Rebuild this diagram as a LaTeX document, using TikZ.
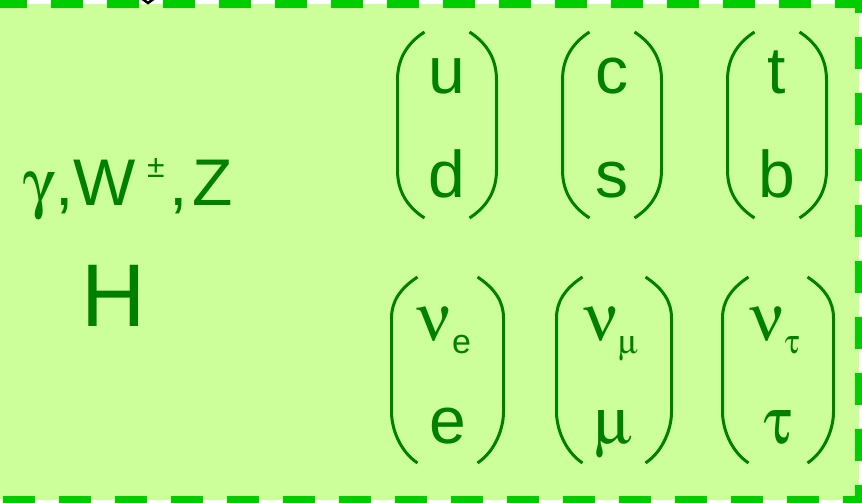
\documentclass[tikz,border=0pt]{standalone}
\usepackage{fontspec}
\usepackage[Symbol]{upgreek}
\setmainfont{Liberation Sans}
\usetikzlibrary{calc}
\definecolor{boxfill}{RGB}{204,255,153}
\definecolor{boxedge}{RGB}{0,204,0}
\definecolor{ink}{RGB}{0,128,0}

\begin{document}
\begin{tikzpicture}[x=1pt,y=-1pt,
  flav/.style={text=ink,inner sep=0pt,font=\fontsize{66}{66}\selectfont},
  paren/.style={draw=ink,line width=3pt},
  edge/.style={draw=boxedge,line width=8pt,dash pattern=on 32pt off 24pt}]
\useasboundingbox (0,0) rectangle (862,503);
% background box, left side runs off the page
\fill[boxfill] (-20,4) rectangle (859,500);
\draw[edge] (-5,4) -- (870,4);
\draw[edge] (859,-19) -- (859,510);
\draw[edge] (3,500) -- (870,500);
\draw[line width=2.5pt] (141,-2) -- (148,3) -- (155,-2);

% gauge and Higgs bosons
\node[flav,anchor=base] (bosons) at (128,205) {$\upgamma$,W\hspace{11pt}\raisebox{28pt}{\fontsize{32}{32}\selectfont ±}\hspace{5pt},\hspace{4pt}Z};
\node[flav,font=\fontsize{89}{89}\selectfont,anchor=base] (higgs) at (114,326) {H};

% quark doublets
\foreach \n/\cx/\up/\dn in {ud/447/u/d,cs/612/c/s,tb/777/t/b} {
    \node[flav,anchor=base] (\n-up) at (\cx,93) {\up};
    \node[flav,anchor=base] (\n-dn) at (\cx,197) {\dn};
    \foreach \s in {-1,1}
        \draw[paren] ({\cx+\s*22.5},32) .. controls ({\cx+\s*41},44) and ({\cx+\s*49.5},60) .. ({\cx+\s*49.5},80)
            -- ({\cx+\s*49.5},170) .. controls ({\cx+\s*49.5},190) and ({\cx+\s*41},206) .. ({\cx+\s*22.5},218);
}

% lepton doublets
\foreach \n/\cx/\w/\sub in {e/447.5/56/e,mu/614/57.5/$\upmu$,tau/778/55.5/$\uptau$} {
    \node[flav,anchor=base] (nu-\n) at (\cx-3,340) {$\upnu$\raisebox{-13pt}{\fontsize{34}{34}\selectfont\sub}};
    \node[flav,anchor=base] (\n) at (\cx,443) {\sub};
    \foreach \s in {-1,1}
        \draw[paren] ({\cx+\s*(\w-26)},277) .. controls ({\cx+\s*(\w-8)},289) and ({\cx+\s*\w},302) .. ({\cx+\s*\w},318)
            -- ({\cx+\s*\w},412) .. controls ({\cx+\s*\w},428) and ({\cx+\s*(\w-8)},451) .. ({\cx+\s*(\w-26)},463);
}
\end{tikzpicture}
\end{document}
